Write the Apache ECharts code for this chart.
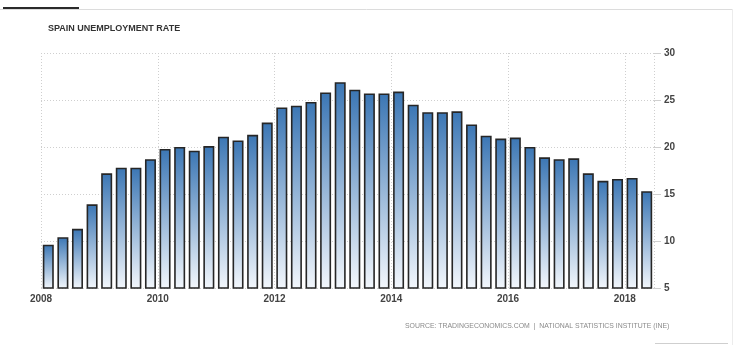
<!DOCTYPE html>
<html>
<head>
<meta charset="utf-8">
<script src="https://cdn.jsdelivr.net/npm/echarts@6/dist/echarts.min.js"></script>
<style>
  html, body { margin: 0; padding: 0; background: #ffffff; }
  #chart { width: 740px; height: 360px; }
</style>
</head>
<body>
<div id="chart"></div>
<script>
// Quarterly categories (2008 Q1 .. 2018 Q2)
const quarters = [
  '2008Q1','2008Q2','2008Q3','2008Q4',
  '2009Q1','2009Q2','2009Q3','2009Q4',
  '2010Q1','2010Q2','2010Q3','2010Q4',
  '2011Q1','2011Q2','2011Q3','2011Q4',
  '2012Q1','2012Q2','2012Q3','2012Q4',
  '2013Q1','2013Q2','2013Q3','2013Q4',
  '2014Q1','2014Q2','2014Q3','2014Q4',
  '2015Q1','2015Q2','2015Q3','2015Q4',
  '2016Q1','2016Q2','2016Q3','2016Q4',
  '2017Q1','2017Q2','2017Q3','2017Q4',
  '2018Q1','2018Q2'
];
// Unemployment rate, %
const unemployment = [
  9.6, 10.4, 11.3, 13.9,
  17.2, 17.8, 17.8, 18.7,
  19.8, 20.0, 19.6, 20.1,
  21.1, 20.7, 21.3, 22.6,
  24.2, 24.4, 24.8, 25.8,
  26.9, 26.1, 25.7, 25.7,
  25.9, 24.5, 23.7, 23.7,
  23.8, 22.4, 21.2, 20.9,
  21.0, 20.0, 18.9, 18.7,
  18.8, 17.2, 16.4, 16.6,
  16.7, 15.3
];
// Year tick labels on the time axis
const yearTicks = [2008, 2010, 2012, 2014, 2016, 2018];
const yTicks = [5, 10, 15, 20, 25, 30];

const titleText = 'SPAIN UNEMPLOYMENT RATE';
const sourceText = 'SOURCE: TRADINGECONOMICS.COM  |  NATIONAL STATISTICS INSTITUTE (INE)';

const chart = echarts.init(document.getElementById('chart'), null, { renderer: 'canvas' });

const labelFont = { fontFamily: 'Liberation Sans', fontSize: 10, fontWeight: 'bold', color: '#444' };
const dotted = { color: '#cfcfcf', type: [1, 2], width: 1 };

const option = {
  backgroundColor: '#ffffff',
  animation: false,
  title: {
    text: titleText,
    left: 43,
    top: 19,
    textStyle: { fontFamily: 'Liberation Sans', fontSize: 9, fontWeight: 'bold', color: '#333' }
  },
  grid: { left: 41, right: 86, top: 53, bottom: 72, containLabel: false },
  xAxis: [
    {
      type: 'category',
      data: quarters,
      show: false,
      boundaryGap: true
    },
    {
      type: 'value',
      min: yearTicks[0],
      max: 2018.5,
      interval: 2,
      position: 'bottom',
      axisLine: { show: false },
      axisTick: { show: false },
      splitLine: { show: true, lineStyle: dotted },
      axisLabel: Object.assign({
        margin: 6,
        showMaxLabel: false,
        formatter: v => (yearTicks.indexOf(v) >= 0 ? String(v) : '')
      }, labelFont)
    }
  ],
  yAxis: {
    type: 'value',
    position: 'right',
    min: yTicks[0],
    max: yTicks[yTicks.length - 1],
    interval: 5,
    axisLine: { show: false },
    axisTick: { show: true, length: 7, lineStyle: { color: '#cfcfcf' } },
    splitLine: { show: true, lineStyle: dotted },
    axisLabel: Object.assign({ margin: 10 }, labelFont)
  },
  series: [
    {
      type: 'bar',
      xAxisIndex: 0,
      data: unemployment,
      barWidth: 11,
      itemStyle: {
        borderColor: '#262626',
        borderWidth: 1.6,
        color: new echarts.graphic.LinearGradient(0, 0, 0, 1, [
          { offset: 0, color: '#3b76b4' },
          { offset: 1, color: '#f3f7fc' }
        ])
      }
    }
  ],
  graphic: [
    { type: 'line', shape: { x1: 0, y1: 9.5, x2: 733, y2: 9.5 }, style: { stroke: '#dcdcdc', lineWidth: 1 } },
    { type: 'rect', shape: { x: 3, y: 7, width: 76, height: 2 }, style: { fill: '#2b2b2b' } },
    { type: 'line', shape: { x1: 732.5, y1: 9, x2: 732.5, y2: 345 }, style: { stroke: '#ececec', lineWidth: 1 } },
    { type: 'line', shape: { x1: 655, y1: 343.5, x2: 728, y2: 343.5 }, style: { stroke: '#cfcfcf', lineWidth: 1 } },
    {
      type: 'text', left: 405, top: 323,
      style: { text: sourceText, fontFamily: 'Liberation Sans', fontSize: 6.9, fill: '#8a8a8a' }
    }
  ]
};

chart.setOption(option);
</script>
</body>
</html>
